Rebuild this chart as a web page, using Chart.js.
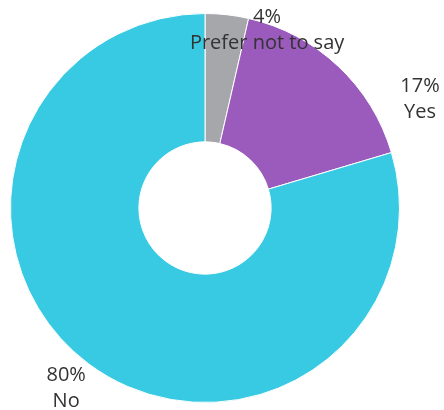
<!DOCTYPE html>
<html>
<head>
<meta charset="utf-8">
<script src="https://cdn.jsdelivr.net/npm/chart.js@4/dist/chart.umd.min.js"></script>
<style>
  html, body { margin: 0; padding: 0; background: #fff; }
  #wrap { width: 444px; height: 410px; position: relative; }
</style>
</head>
<body>
<div id="wrap"><canvas id="pie"></canvas></div>
<script>
// Survey answers (share of respondents, %)
const categories = ['Prefer not to say', 'Yes', 'No'];
const shares = [3.6, 16.8, 79.6];
const percentLabels = ['4%', '17%', '80%'];
const sliceColors = ['#a6a7ab', '#9a5bbc', '#38cae3'];

// Where each label block sits, relative to the pie centre (angle from top, clockwise, and distance)
const labelAngles = [19.9, 64.5, 216.8];
const labelRadii = [182.4, 238.2, 231.8];

// Draw the "pct / name" labels outside the ring
const outsideLabels = {
    id: 'outsideLabels',
    afterDatasetsDraw(chart) {
        const ctx = chart.ctx;
        const arc = chart.getDatasetMeta(0).data[0];
        const cx = arc.x, cy = arc.y;
        ctx.save();
        ctx.fillStyle = '#333';
        ctx.font = '20px "Open Sans"';
        ctx.textAlign = 'center';
        ctx.textBaseline = 'alphabetic';
        categories.forEach((name, i) => {
            const a = labelAngles[i] * Math.PI / 180;
            const x = cx + Math.sin(a) * labelRadii[i];
            const y = cy - Math.cos(a) * labelRadii[i];
            ctx.fillText(percentLabels[i], x, y - 13);
            ctx.fillText(name, x, y + 13);
        });
        ctx.restore();
    }
};

const ctx = document.getElementById('pie').getContext('2d');
new Chart(ctx, {
    type: 'doughnut',
    data: {
        labels: categories,
        datasets: [{
            data: shares,
            backgroundColor: sliceColors,
            borderColor: '#fff',
            borderWidth: 1
        }]
    },
    options: {
        responsive: true,
        maintainAspectRatio: false,
        animation: false,
        cutout: '34%',
        layout: {
            padding: { left: 10, right: 44, top: 13, bottom: 7 }
        },
        plugins: {
            legend: { display: false },
            tooltip: { enabled: false }
        }
    },
    plugins: [outsideLabels]
});
</script>
</body>
</html>
